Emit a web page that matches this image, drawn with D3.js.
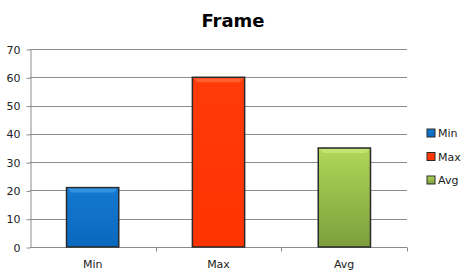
<!DOCTYPE html>
<meta charset="utf-8">
<style>
html, body { margin: 0; padding: 0; background: #fff; }
text { font-family: "DejaVu Sans", Verdana, sans-serif; fill: #222; }
.grid line { stroke: #8c8c8c; stroke-width: 1; }
.axis path, .axis line { stroke: #8c8c8c; }
</style>
<div id="chart"></div>
<script src="https://cdn.jsdelivr.net/npm/d3@7"></script>
<script>
// chart data
var categories = ["Min", "Max", "Avg"];
var values = [21, 60, 35];
var yTicks = [0, 10, 20, 30, 40, 50, 60, 70];
var title = "Frame";

var width = 469, height = 278;
var margin = {top: 49, left: 30, right: 62, bottom: 31};

var svg = d3.select("#chart").append("svg")
    .attr("width", width)
    .attr("height", height);

var defs = svg.append("defs");
var fills = [
  {id: "gMin", top: "#1579d0", bot: "#0868be", edge: "#3a9ae6"},
  {id: "gMax", top: "#ff3a08", bot: "#ff3300", edge: "#ff6a3a"},
  {id: "gAvg", top: "#b0d758", bot: "#7c9f3c", edge: "#c8e67a"}
];
fills.forEach(function(f) {
  var g = defs.append("linearGradient").attr("id", f.id)
      .attr("x1", 0).attr("y1", 0).attr("x2", 0).attr("y2", 1);
  g.append("stop").attr("offset", "0%").attr("stop-color", f.top);
  g.append("stop").attr("offset", "100%").attr("stop-color", f.bot);
});

var x = d3.scaleBand()
    .domain(categories)
    .range([margin.left, width - margin.right])
    .paddingInner(0.585)
    .paddingOuter(0.29);

var xb = d3.scaleBand().domain(categories).range([margin.left, width - margin.right]);

var y = d3.scaleLinear()
    .domain([0, 70])
    .range([height - margin.bottom, margin.top]);

// gridlines
svg.append("g").attr("class", "grid")
  .selectAll("line").data(yTicks.slice(1)).enter().append("line")
    .attr("x1", margin.left).attr("x2", width - margin.right)
    .attr("y1", function(d) { return Math.round(y(d)) + 0.5; })
    .attr("y2", function(d) { return Math.round(y(d)) + 0.5; });

// y axis
var yAxis = svg.append("g").attr("class", "axis")
    .attr("transform", "translate(" + (margin.left + 0.5) + ",0.5)")
    .call(d3.axisLeft(y).tickValues(yTicks).tickSize(4).tickSizeOuter(0).tickPadding(6));
yAxis.selectAll("text").style("font-size", "11px").attr("fill", "#222");

// x axis with ticks between categories
var xAxisG = svg.append("g").attr("class", "axis")
    .attr("transform", "translate(0," + (Math.round(y(0)) + 0.5) + ")");
xAxisG.append("line")
    .attr("x1", margin.left).attr("x2", width - margin.right)
    .attr("stroke", "#8c8c8c");
xAxisG.selectAll(".sep").data(categories).enter().append("line")
    .attr("x1", function(d) { return Math.round(xb(d) + xb.bandwidth()) + 0.5; })
    .attr("x2", function(d) { return Math.round(xb(d) + xb.bandwidth()) + 0.5; })
    .attr("y1", 0).attr("y2", 4).attr("stroke", "#8c8c8c");
xAxisG.selectAll("text").data(categories).enter().append("text")
    .attr("x", function(d) { return xb(d) + xb.bandwidth() / 2; })
    .attr("y", 20)
    .attr("text-anchor", "middle")
    .style("font-size", "11px")
    .text(function(d) { return d; });

// bars
var bars = svg.append("g").selectAll("g").data(values).enter().append("g");
bars.append("rect")
    .attr("x", function(d, i) { return x(categories[i]); })
    .attr("y", function(d) { return y(d); })
    .attr("width", x.bandwidth())
    .attr("height", function(d) { return y(0) - y(d); })
    .attr("fill", function(d, i) { return "url(#" + fills[i].id + ")"; })
    .attr("stroke", "#2a2a2a")
    .attr("stroke-width", 1.5);
// bevel highlight at top
bars.append("path")
    .attr("d", function(d, i) {
      var x0 = x(categories[i]) + 1, x1 = x0 + x.bandwidth() - 2, t = y(d) + 1;
      return "M" + x0 + "," + t + "L" + x1 + "," + t + "L" + (x1 - 4) + "," + (t + 4) + "L" + (x0 + 4) + "," + (t + 4) + "Z";
    })
    .attr("fill", function(d, i) { return fills[i].edge; })
    .attr("opacity", 0.8);

// title
svg.append("text")
    .attr("x", 233).attr("y", 27)
    .attr("text-anchor", "middle")
    .style("font-size", "18px")
    .style("font-weight", "bold")
    .style("fill", "#000")
    .text(title);

// legend
var legend = svg.append("g").selectAll("g").data(categories).enter().append("g")
    .attr("transform", function(d, i) { return "translate(427," + (129 + i * 23.5) + ")"; });
legend.append("rect")
    .attr("width", 8).attr("height", 8)
    .attr("fill", function(d, i) { return "url(#" + fills[i].id + ")"; })
    .attr("stroke", "#2a2a2a").attr("stroke-width", 1);
legend.append("text")
    .attr("x", 11).attr("y", 8)
    .style("font-size", "11px")
    .text(function(d) { return d; });
</script>
